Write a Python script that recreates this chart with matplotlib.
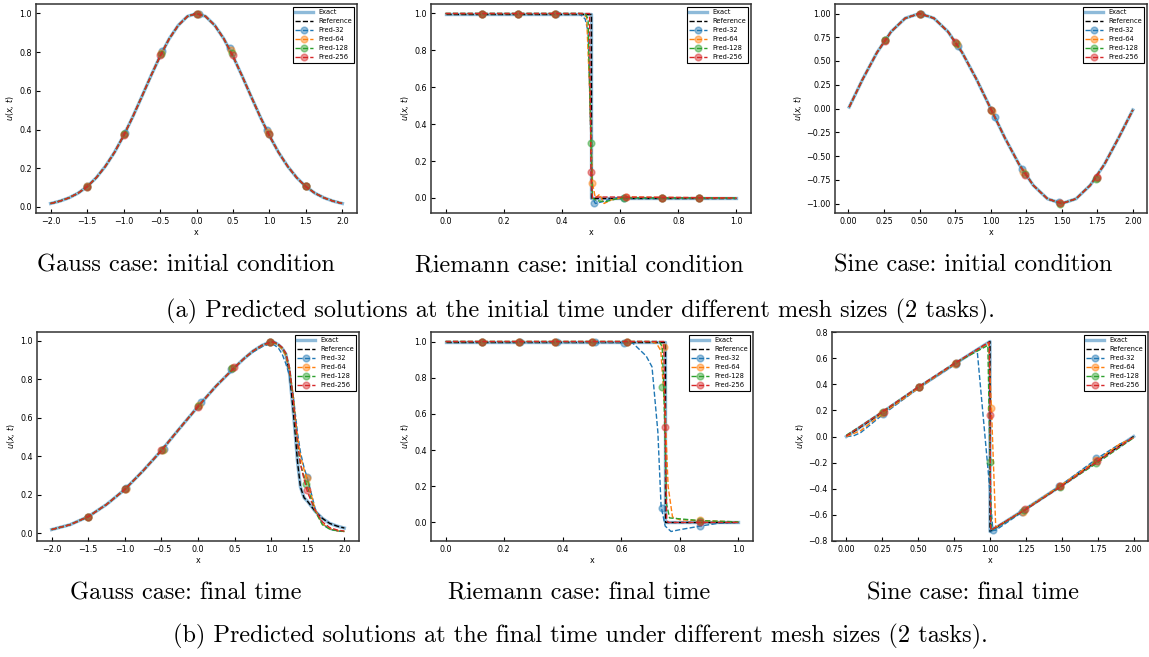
import matplotlib

matplotlib.use("Agg")

import matplotlib.pyplot as plt
from matplotlib.colors import to_rgba
from matplotlib.lines import Line2D

LABELS = ["Pred-32", "Pred-64", "Pred-128", "Pred-256"]
COLORS = ["tab:blue", "tab:orange", "tab:green", "tab:red"]

# ---- Gauss, initial condition ----
G0_X = [-2.0, -1.875, -1.75, -1.625, -1.5, -1.375, -1.25, -1.125, -1.0, -0.875, -0.75, -0.625, -0.5,
        -0.375, -0.25, -0.125, 0.0, 0.125, 0.25, 0.375, 0.5, 0.625, 0.75, 0.875, 1.0, 1.125, 1.25,
        1.375, 1.5, 1.625, 1.75, 1.875, 2.0]
G0_EXACT = [0.018, 0.030, 0.047, 0.071, 0.105, 0.151, 0.210, 0.282, 0.368, 0.465, 0.570, 0.677, 0.779,
            0.869, 0.939, 0.985, 1.000, 0.985, 0.939, 0.869, 0.779, 0.677, 0.570, 0.465, 0.368, 0.282,
            0.210, 0.151, 0.105, 0.071, 0.047, 0.030, 0.018]
G0_MX = [[-1.50, -0.98, -0.47, 0.03, 0.46, 0.97, 1.50],
         [-1.50, -0.99, -0.48, 0.02, 0.47, 0.98, 1.50],
         [-1.50, -1.00, -0.49, 0.01, 0.49, 0.99, 1.50],
         [-1.50, -1.00, -0.50, 0.00, 0.50, 1.00, 1.50]]
G0_MY = [[0.107, 0.384, 0.806, 0.998, 0.820, 0.397, 0.108],
         [0.106, 0.379, 0.797, 0.997, 0.810, 0.388, 0.107],
         [0.105, 0.375, 0.790, 0.996, 0.795, 0.379, 0.106],
         [0.105, 0.372, 0.785, 0.995, 0.787, 0.375, 0.107]]

# ---- Riemann, initial condition ----
R0_X = [0.0, 0.5, 0.5, 1.0]
R0_EXACT = [1.0, 1.0, 0.0, 0.0]
R0_PX = [[0.0, 0.46, 0.48, 0.49, 0.50, 0.505, 0.515, 0.54, 0.58, 1.0],
         [0.0, 0.47, 0.485, 0.495, 0.505, 0.515, 0.53, 0.545, 0.57, 0.62, 1.0],
         [0.0, 0.48, 0.49, 0.50, 0.505, 0.52, 0.55, 0.60, 1.0],
         [0.0, 0.495, 0.50, 0.505, 0.52, 0.60, 1.0]]
R0_PY = [[1.0, 1.0, 0.97, 0.90, 0.30, 0.0, -0.03, -0.02, 0.0, 0.0],
         [1.0, 1.0, 0.98, 0.60, 0.08, 0.0, 0.02, -0.03, -0.01, 0.005, 0.0],
         [1.0, 1.0, 0.97, 0.30, 0.0, -0.015, -0.02, 0.0, 0.0],
         [1.0, 1.0, 0.14, 0.0, 0.005, 0.005, 0.0]]
R0_MX = [[0.125, 0.25, 0.38, 0.51, 0.615, 0.745, 0.87],
         [0.125, 0.25, 0.375, 0.505, 0.62, 0.745, 0.87],
         [0.125, 0.25, 0.375, 0.50, 0.615, 0.745, 0.87],
         [0.125, 0.25, 0.375, 0.499, 0.62, 0.745, 0.87]]
R0_MY = [[1.0, 1.0, 1.0, -0.025, 0.0, 0.0, 0.0],
         [1.0, 1.0, 1.0, 0.08, 0.005, 0.0, 0.0],
         [1.0, 1.0, 1.0, 0.30, 0.0, 0.0, 0.0],
         [1.0, 1.0, 1.0, 0.14, 0.005, 0.0, 0.0]]

# ---- Sine, initial condition ----
S0_X = [0.005, 0.1, 0.2, 0.3, 0.4, 0.5, 0.6, 0.7, 0.8, 0.9, 1.0, 1.1, 1.2, 1.3, 1.4, 1.5, 1.6, 1.7,
        1.8, 1.9, 2.0]
S0_EXACT = [0.015, 0.309, 0.588, 0.809, 0.951, 1.0, 0.951, 0.809, 0.588, 0.309, 0.0, -0.309, -0.588,
            -0.809, -0.951, -1.0, -0.951, -0.809, -0.588, -0.309, -0.015]
S0_MX = [[0.26, 0.51, 0.77, 1.03, 1.22, 1.48, 1.745],
         [0.255, 0.505, 0.765, 1.01, 1.23, 1.49, 1.745],
         [0.255, 0.505, 0.755, 1.005, 1.24, 1.49, 1.74],
         [0.255, 0.505, 0.75, 1.005, 1.245, 1.49, 1.745]]
S0_MY = [[0.72, 0.995, 0.66, -0.09, -0.64, -0.98, -0.73],
         [0.72, 0.995, 0.68, -0.03, -0.67, -0.99, -0.73],
         [0.72, 0.995, 0.69, -0.02, -0.69, -1.0, -0.74],
         [0.715, 0.995, 0.70, -0.015, -0.70, -0.995, -0.72]]

# ---- Gauss, final time ----
G1_X = [-2.0, -1.75, -1.5, -1.25, -1.0, -0.75, -0.5, -0.25, 0.0, 0.25, 0.5, 0.625, 0.75, 0.875, 1.0,
        1.05, 1.1, 1.15, 1.2, 1.25, 1.3, 1.33, 1.36, 1.4, 1.45, 1.5, 1.6, 1.7, 1.8, 1.9, 2.0]
G1_EXACT = [0.020, 0.045, 0.087, 0.150, 0.228, 0.325, 0.430, 0.545, 0.658, 0.765, 0.860, 0.905, 0.945,
            0.975, 0.995, 0.990, 0.978, 0.960, 0.930, 0.830, 0.640, 0.510, 0.370, 0.240, 0.185, 0.165,
            0.115, 0.078, 0.052, 0.038, 0.028]
G1_PY = [[0.020, 0.045, 0.087, 0.150, 0.228, 0.325, 0.430, 0.545, 0.658, 0.765, 0.860, 0.905, 0.940,
          0.968, 0.985, 0.975, 0.960, 0.930, 0.880, 0.820, 0.720, 0.620, 0.520, 0.420, 0.340, 0.280,
          0.130, 0.050, 0.022, 0.012, 0.010],
         [0.020, 0.045, 0.087, 0.150, 0.228, 0.325, 0.430, 0.545, 0.658, 0.765, 0.860, 0.905, 0.945,
          0.973, 0.990, 0.985, 0.975, 0.955, 0.920, 0.850, 0.720, 0.600, 0.500, 0.400, 0.330, 0.270,
          0.125, 0.050, 0.025, 0.014, 0.010],
         [0.020, 0.045, 0.087, 0.150, 0.228, 0.325, 0.430, 0.545, 0.658, 0.765, 0.860, 0.905, 0.945,
          0.975, 0.992, 0.988, 0.978, 0.962, 0.930, 0.860, 0.710, 0.570, 0.460, 0.360, 0.290, 0.235,
          0.115, 0.045, 0.022, 0.014, 0.010],
         [0.020, 0.045, 0.087, 0.150, 0.228, 0.325, 0.430, 0.545, 0.658, 0.765, 0.860, 0.905, 0.945,
          0.975, 0.993, 0.990, 0.980, 0.965, 0.935, 0.860, 0.700, 0.580, 0.470, 0.360, 0.280, 0.210,
          0.120, 0.060, 0.030, 0.018, 0.012]]
G1_MX = [[-1.50, -0.98, -0.47, 0.04, 0.45, 0.98, 1.49],
         [-1.50, -0.99, -0.48, 0.01, 0.47, 0.99, 1.49],
         [-1.50, -1.00, -0.49, 0.00, 0.47, 0.99, 1.48],
         [-1.50, -1.00, -0.50, 0.00, 0.49, 0.99, 1.49]]
G1_MY = [[0.087, 0.235, 0.440, 0.680, 0.855, 0.990, 0.295],
         [0.086, 0.230, 0.435, 0.665, 0.860, 0.990, 0.285],
         [0.085, 0.228, 0.432, 0.660, 0.858, 0.990, 0.255],
         [0.085, 0.228, 0.430, 0.658, 0.865, 0.990, 0.225]]

# ---- Riemann, final time ----
R1_X = [0.0, 0.75, 0.75, 1.0]
R1_EXACT = [1.0, 1.0, 0.0, 0.0]
R1_PX = [[0.0, 0.6, 0.64, 0.685, 0.705, 0.725, 0.736, 0.75, 0.77, 0.8, 0.87, 0.93, 1.0],
         [0.0, 0.70, 0.72, 0.735, 0.75, 0.76, 0.775, 0.8, 0.87, 1.0],
         [0.0, 0.73, 0.74, 0.745, 0.755, 0.765, 0.8, 0.87, 1.0],
         [0.0, 0.745, 0.75, 0.755, 0.76, 1.0]]
R1_PY = [[1.0, 0.995, 0.99, 0.92, 0.86, 0.50, 0.09, -0.02, -0.05, -0.04, -0.02, -0.005, 0.0],
         [1.0, 1.0, 0.99, 0.95, 0.60, 0.20, 0.03, 0.015, 0.01, 0.003],
         [1.0, 1.0, 0.97, 0.75, 0.10, 0.025, 0.02, 0.01, 0.003],
         [1.0, 1.0, 0.53, 0.02, 0.0, 0.0]]
R1_MX = [[0.125, 0.255, 0.38, 0.51, 0.61, 0.74, 0.87],
         [0.125, 0.25, 0.375, 0.50, 0.62, 0.745, 0.87],
         [0.125, 0.25, 0.375, 0.50, 0.62, 0.74, 0.87],
         [0.125, 0.25, 0.375, 0.50, 0.62, 0.75, 0.87]]
R1_MY = [[1.0, 1.0, 1.0, 0.995, 0.99, 0.08, -0.02],
         [1.0, 1.0, 1.0, 1.0, 1.0, 0.97, 0.012],
         [1.0, 1.0, 1.0, 1.0, 1.0, 0.75, 0.01],
         [1.0, 1.0, 1.0, 1.0, 1.0, 0.53, 0.0]]

# ---- Sine, final time ----
S1_X = [0.0, 0.25, 0.5, 0.75, 1.0, 1.0, 1.25, 1.5, 1.75, 2.0]
S1_EXACT = [0.0, 0.185, 0.375, 0.555, 0.73, -0.73, -0.555, -0.375, -0.185, 0.0]
S1_PX = [[0.0, 0.05, 0.1, 0.25, 0.5, 0.75, 0.91, 0.99, 1.02, 1.04, 1.25, 1.5, 1.75, 1.9, 2.0],
         [0.0, 0.1, 0.25, 0.5, 0.75, 0.99, 1.01, 1.04, 1.25, 1.5, 1.75, 1.9, 2.0],
         [0.0, 0.1, 0.25, 0.5, 0.75, 0.985, 1.0, 1.01, 1.25, 1.5, 1.75, 2.0],
         [0.0, 0.25, 0.5, 0.75, 0.995, 1.0, 1.005, 1.25, 1.5, 1.75, 2.0]]
S1_PY = [[0.0, 0.005, 0.03, 0.165, 0.37, 0.55, 0.67, -0.30, -0.72, -0.72, -0.56, -0.37, -0.165, -0.06, -0.01],
         [0.0, 0.045, 0.175, 0.37, 0.555, 0.72, 0.22, -0.70, -0.555, -0.37, -0.18, -0.06, -0.01],
         [0.01, 0.08, 0.19, 0.38, 0.56, 0.70, -0.195, -0.72, -0.56, -0.38, -0.20, -0.01],
         [0.005, 0.19, 0.38, 0.56, 0.725, 0.165, -0.72, -0.56, -0.38, -0.19, -0.005]]
S1_MX = [[0.255, 0.505, 0.765, 1.02, 1.225, 1.48, 1.74],
         [0.25, 0.505, 0.755, 1.01, 1.23, 1.485, 1.74],
         [0.255, 0.505, 0.76, 1.00, 1.24, 1.49, 1.74],
         [0.26, 0.505, 0.765, 1.00, 1.245, 1.49, 1.745]]
S1_MY = [[0.17, 0.38, 0.56, -0.72, -0.58, -0.38, -0.165],
         [0.18, 0.38, 0.56, 0.22, -0.58, -0.38, -0.18],
         [0.19, 0.38, 0.565, -0.195, -0.565, -0.385, -0.20],
         [0.19, 0.38, 0.565, 0.165, -0.56, -0.38, -0.19]]

CAPTIONS = ["Gauss case: initial condition", "Riemann case: initial condition",
            "Sine case: initial condition", "Gauss case: final time",
            "Riemann case: final time", "Sine case: final time"]
ROW_CAPTIONS = ["(a) Predicted solutions at the initial time under different mesh sizes (2 tasks).",
                "(b) Predicted solutions at the final time under different mesh sizes (2 tasks)."]

W, H = 1149, 657
# axes boxes in pixels: left, top, right, bottom
BOXES = [(36, 4, 357, 213), (431, 4, 751, 213), (835, 4, 1147, 213),
         (37, 332, 359, 541), (431, 332, 753, 541), (832, 332, 1148, 541)]
CAP_POS = [(186, 265), (579, 265), (973, 265), (186, 593), (579, 593), (973, 593)]
ROW_POS = [(580, 311), (580, 636)]


def draw_panel(ax, ex, ey, pred_x, pred_y, mx, my):
    ax.plot(ex, ey, color="tab:blue", alpha=0.5, lw=2.4, zorder=1)
    ax.plot(ex, ey, color="black", ls="--", lw=1.0, zorder=2)
    for i in range(4):
        face = to_rgba(COLORS[i], 0.45)
        ax.plot(pred_x[i], pred_y[i], color=COLORS[i], ls="--", lw=1.0, zorder=3 + i)
        ax.plot(mx[i], my[i], ls="none", marker="o", ms=4.8, mfc=face, mew=1.1,
                color=COLORS[i], zorder=3 + i)
    handles = [Line2D([], [], color="tab:blue", alpha=0.5, lw=2.4, label="Exact"),
               Line2D([], [], color="black", ls="--", lw=1.0, label="Reference")]
    for i in range(4):
        handles.append(Line2D([], [], color=COLORS[i], ls="--", lw=1.0, marker="o", ms=4.8,
                              mfc=to_rgba(COLORS[i], 0.45), mew=1.1, label=LABELS[i]))
    leg = ax.legend(handles=handles, loc="upper right", fontsize=4.8, fancybox=False,
                    framealpha=1, edgecolor="black", borderaxespad=0.4, handlelength=2.6,
                    labelspacing=0.45)
    leg.get_frame().set_linewidth(0.8)
    ax.set_xlabel("x", fontsize=5.8, labelpad=1)
    ax.set_ylabel("$u(x,\\,t)$", fontsize=5.8, labelpad=2)
    ax.tick_params(direction="in", labelsize=5.8, length=3, width=0.8, pad=3)
    for sp in ax.spines.values():
        sp.set_linewidth(1.1)
        sp.set_color("#333333")


def main() -> None:
    fig = plt.figure(figsize=(W / 100, H / 100), dpi=100)
    panels = [
        (G0_X, G0_EXACT, [G0_X] * 4, [G0_EXACT] * 4, G0_MX, G0_MY),
        (R0_X, R0_EXACT, R0_PX, R0_PY, R0_MX, R0_MY),
        (S0_X, S0_EXACT, [S0_X] * 4, [S0_EXACT] * 4, S0_MX, S0_MY),
        (G1_X, G1_EXACT, [G1_X] * 4, G1_PY, G1_MX, G1_MY),
        (R1_X, R1_EXACT, R1_PX, R1_PY, R1_MX, R1_MY),
        (S1_X, S1_EXACT, S1_PX, S1_PY, S1_MX, S1_MY),
    ]
    for box, data in zip(BOXES, panels):
        l, t, r, b = box
        ax = fig.add_axes([l / W, 1 - b / H, (r - l) / W, (b - t) / H])
        draw_panel(ax, *data)

    for text, (x, y) in zip(CAPTIONS, CAP_POS):
        fig.text(x / W, 1 - y / H, text, ha="center", va="center", fontsize=17.5, family="cmr10")
    for text, (x, y) in zip(ROW_CAPTIONS, ROW_POS):
        fig.text(x / W, 1 - y / H, text, ha="center", va="center", fontsize=17.5, family="cmr10")

    fig.savefig("out.png", dpi=100)
    plt.close(fig)


if __name__ == "__main__":
    main()
